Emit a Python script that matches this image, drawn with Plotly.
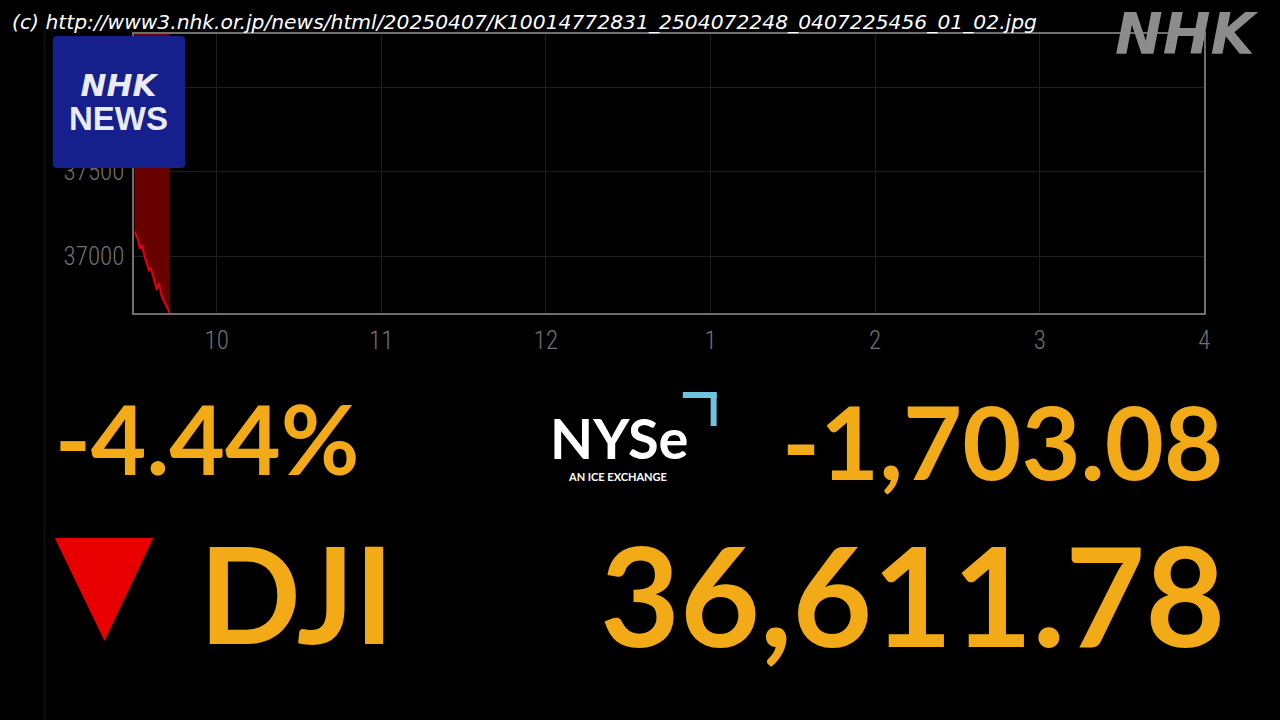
import plotly.graph_objects as go

# ---- data ----
times = ["2025-04-07 09:30:00", "2025-04-07 09:30:30", "2025-04-07 09:31:18", "2025-04-07 09:32:00",
         "2025-04-07 09:32:42", "2025-04-07 09:33:48", "2025-04-07 09:34:30", "2025-04-07 09:35:18",
         "2025-04-07 09:36:00", "2025-04-07 09:37:06", "2025-04-07 09:38:12", "2025-04-07 09:38:54",
         "2025-04-07 09:40:00", "2025-04-07 09:41:06", "2025-04-07 09:42:12", "2025-04-07 09:42:54"]
dji = [37145, 37130, 37100, 37045, 37068, 36994, 36958, 36918, 36930, 36858, 36800, 36842,
       36760, 36724, 36688, 36665]
prev_close = 38314.86
tick_vals = ["2025-04-07 10:00", "2025-04-07 11:00", "2025-04-07 12:00", "2025-04-07 13:00",
             "2025-04-07 14:00", "2025-04-07 15:00", "2025-04-07 16:00"]
tick_text = ["10", "11", "12", "1", "2", "3", "4"]
y_ticks = [37000, 37500, 38000]
y_tick_text = ["37000", "37500", ""]  # 38000 label is hidden behind the logo
pct_change = "-4.44%"
pt_change = "-1,703.08"
index_name = "DJI"
index_value = "36,611.78"
source_text = "(c) http://www3.nhk.or.jp/news/html/20250407/K10014772831_2504072248_0407225456_01_02.jpg"

W, H = 1280, 720
ORANGE = "rgb(242,170,22)"

def px(x):
    return x / W

def py(y):
    return 1 - y / H

fig = go.Figure()
fig.add_trace(go.Scatter(x=times, y=[prev_close] * len(times), mode="lines",
                         line=dict(width=0, color="rgba(0,0,0,0)"), hoverinfo="skip", showlegend=False))
fig.add_trace(go.Scatter(x=times, y=dji, mode="lines", fill="tonexty",
                         fillcolor="rgb(105,0,0)", line=dict(color="rgb(225,0,20)", width=2),
                         showlegend=False))

axis_font = dict(family="Roboto Condensed, Liberation Sans Narrow, Roboto, sans-serif", size=25,
                 color="rgb(112,112,112)", weight=300)
fig.update_layout(
    width=W, height=H,
    paper_bgcolor="black", plot_bgcolor="black",
    margin=dict(l=0, r=0, t=0, b=0),
    xaxis=dict(domain=[px(135), px(1210)], type="date",
               range=["2025-04-07 09:30", "2025-04-07 16:00"],
               tickvals=tick_vals, ticktext=tick_text, tickfont=axis_font,
               showgrid=True, gridcolor="rgb(30,30,30)", gridwidth=1,
               showline=True, linecolor="rgb(110,110,110)", linewidth=2, mirror=True,
               ticks="", ticklabelstandoff=4, zeroline=False),
    yaxis=dict(domain=[py(313), py(34)], range=[36664, 38315],
               tickvals=y_ticks, ticktext=y_tick_text, tickfont=axis_font,
               showgrid=True, gridcolor="rgb(30,30,30)", gridwidth=1,
               showline=True, linecolor="rgb(110,110,110)", linewidth=2, mirror=True,
               ticks="", ticklabelstandoff=3, zeroline=False),
)

shapes = []
# faint frame edge
shapes.append(dict(type="line", xref="paper", yref="paper", x0=px(45), x1=px(45), y0=0, y1=py(30),
                   line=dict(color="rgb(22,22,22)", width=1), layer="below"))
# NHK NEWS logo box
shapes.append(dict(type="path", xref="paper", yref="paper",
                   path=f"M {px(57)},{py(36)} L {px(182)},{py(36)} Q {px(186)},{py(36)} {px(186)},{py(40)} "
                        f"L {px(186)},{py(164)} Q {px(186)},{py(168)} {px(182)},{py(168)} "
                        f"L {px(57)},{py(168)} Q {px(53)},{py(168)} {px(53)},{py(164)} "
                        f"L {px(53)},{py(40)} Q {px(53)},{py(36)} {px(57)},{py(36)} Z",
                   fillcolor="rgb(22,32,140)", line=dict(width=0), layer="above"))
# NYSE bracket
shapes.append(dict(type="rect", xref="paper", yref="paper", x0=px(686), x1=px(720), y0=py(398), y1=py(392),
                   fillcolor="rgb(110,195,225)", line=dict(width=0)))
shapes.append(dict(type="rect", xref="paper", yref="paper", x0=px(714), x1=px(720), y0=py(426), y1=py(392),
                   fillcolor="rgb(110,195,225)", line=dict(width=0)))
# red down triangle
shapes.append(dict(type="path", xref="paper", yref="paper",
                   path=f"M {px(55)},{py(538)} L {px(154)},{py(538)} L {px(105)},{py(641)} Z",
                   fillcolor="rgb(232,0,0)", line=dict(width=0)))
fig.update_layout(shapes=shapes)

ann = []
def add(text, x, y, size, color, family, xanchor="left", yanchor="middle", weight="normal"):
    ann.append(dict(text=text, x=px(x), y=py(y), xref="paper", yref="paper", showarrow=False,
                    xanchor=xanchor, yanchor=yanchor,
                    font=dict(size=size, color=color, family=family, weight=weight)))

add(f"<i>{source_text}</i>", 10, 22, 20.3, "white", "DejaVu Sans")
add("<i>NHK</i>", 1192, 34, 57, "rgb(140,140,140)", "DejaVu Sans", xanchor="center", weight="bold")
add("<span style='font-size:31px'><b><i>NHK</i></b></span><br>"
    "<span style='font-size:33px;font-family:Liberation Sans'><b>NEWS</b></span>",
    119, 102, 26, "rgb(235,235,245)", "DejaVu Sans", xanchor="center")
add(pct_change, 53, 438, 96, ORANGE, "Lato", weight="bold")
add("NYSe", 622, 438, 56, "white", "Lato", xanchor="center", weight="bold")
add("AN ICE EXCHANGE", 620, 476, 11, "white", "Lato", xanchor="center", weight="bold")
add(pt_change, 1231, 440, 102, ORANGE, "Lato", xanchor="right", weight="bold")
add(index_name, 198, 592, 134, ORANGE, "Lato", weight="bold")
add(index_value, 1233, 593, 138, ORANGE, "Lato", xanchor="right", weight="bold")
fig.update_layout(annotations=ann)

fig.write_html("out.html", config={"displayModeBar": False},
               post_script="document.body.style.margin='0';document.body.style.overflow='hidden';")
